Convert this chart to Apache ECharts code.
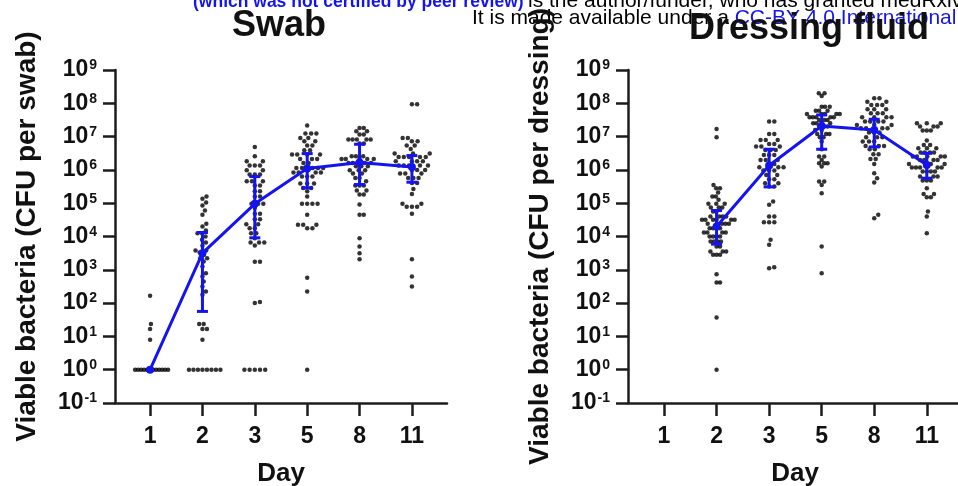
<!DOCTYPE html>
<html>
<head>
<meta charset="utf-8">
<title>Viable bacteria – swab and dressing fluid</title>
<script src="https://cdn.jsdelivr.net/npm/echarts@6/dist/echarts.min.js"></script>
<style>
  html, body { margin: 0; padding: 0; background: #fff; }
  #chart { width: 958px; height: 486px; }
</style>
</head>
<body>
<div id="chart"></div>
<script>
// x categories (sampling day) and y tick exponents
const days = ['1', '2', '3', '5', '8', '11']
const yExponents = [-1, 0, 1, 2, 3, 4, 5, 6, 7, 8, 9]

// swab: log10 CFU per swab, one value per sample
const swabD1 = [0, 0, 0, 0, 0, 0, 0, 0, 0, 0, 0, 0, 0.9, 1.22, 1.37, 2.22]
const swabD2 = [5.2, 5.13, 5.02, 4.93, 4.78, 4.65, 4.38, 4.3, 4.18, 4.1, 4.1, 4.0, 3.9, 3.82, 3.72,
  3.58, 3.58, 3.52, 3.45, 3.35, 3.35, 3.25, 3.1, 2.9, 2.8, 2.65, 2.5, 2.35, 2.25,
  1.37, 1.37, 1.22, 1.22, 0.9, 0, 0, 0, 0, 0, 0, 0, 0]
const swabD3 = [6.69, 6.41, 6.26, 6.26, 6.13, 6.13, 6.13, 5.99, 5.99, 5.86, 5.86, 5.86, 5.66, 5.66, 5.66,
  5.53, 5.53, 5.36, 5.36, 5.2, 5.2, 4.98, 4.98, 4.98, 4.86, 4.68, 4.68, 4.52, 4.52, 4.37, 4.37,
  4.25, 4.25, 4.1, 4.1, 3.95, 3.82, 3.82, 3.82, 3.73, 3.24, 3.24, 2.0, 2.03, 0, 0, 0, 0, 0]
const swabD5 = [7.33, 7.09, 7.09, 7.09, 6.96, 6.96, 6.86, 6.86, 6.73, 6.73, 6.59, 6.59, 6.46, 6.46, 6.46, 6.46,
  6.33, 6.33, 6.33, 6.21, 6.21, 6.06, 6.06, 6.06, 6.06, 6.06, 6.06, 5.92, 5.92, 5.92, 5.92,
  5.8, 5.8, 5.8, 5.59, 5.59, 5.59, 5.46, 5.46, 5.36, 5.2, 4.98, 4.98, 4.98, 4.98, 4.65,
  4.35, 4.35, 4.35, 4.25, 4.25, 2.76, 2.35, 0]
const swabD8 = [7.26, 7.26, 7.16, 7.16, 7.06, 7.06, 6.91, 6.91, 6.91, 6.91, 6.91, 6.79, 6.79, 6.41, 6.41, 6.41,
  6.33, 6.33, 6.33, 6.33, 6.33, 6.21, 6.21, 6.21, 6.21, 6.11, 6.11, 6.11, 5.99, 5.99, 5.99,
  5.89, 5.89, 5.76, 5.76, 5.66, 5.53, 5.53, 5.53, 5.38, 5.38, 5.26, 5.26, 4.96, 4.65, 4.65,
  3.95, 3.7, 3.5, 3.32]
const swabD11 = [7.97, 7.97, 6.96, 6.96, 6.86, 6.86, 6.73, 6.73, 6.63, 6.49, 6.49, 6.49, 6.39, 6.39, 6.39, 6.39, 6.39,
  6.26, 6.26, 6.26, 6.26, 6.13, 6.13, 6.13, 6.13, 6.13, 6.0, 6.0, 6.0, 5.89, 5.89, 5.89,
  5.76, 5.76, 5.76, 5.61, 5.61, 5.43, 5.28, 4.98, 4.98, 4.89, 4.89, 4.89, 4.68, 3.32, 2.8, 2.5]
const swabMedian = [0, 3.5, 4.98, 6.04, 6.22, 6.09]
const swabLow = [null, 1.75, 3.96, 5.46, 5.56, 5.63]
const swabHigh = [null, 4.12, 5.8, 6.49, 6.77, 6.43]

// dressing fluid: log10 CFU per dressing
const dressD1 = []
const dressD2 = [7.23, 6.98, 5.55, 5.45, 5.45, 5.32, 5.2, 5.2, 5.1, 4.98, 4.98, 4.98, 4.87, 4.87, 4.87,
  4.75, 4.75, 4.6, 4.6, 4.6, 4.6, 4.5, 4.5, 4.5, 4.5, 4.5, 4.5, 4.38, 4.38, 4.38, 4.38,
  4.25, 4.25, 4.25, 4.25, 4.12, 4.12, 4.12, 4.12, 4.0, 4.0, 4.0, 4.0, 3.85, 3.85, 3.85, 3.85,
  3.7, 3.7, 3.55, 3.55, 3.55, 3.45, 3.45, 3.45, 2.87, 2.62, 2.62, 1.57, 0]
const dressD3 = [7.45, 7.45, 7.08, 7.08, 6.9, 6.9, 6.9, 6.78, 6.78, 6.7, 6.7, 6.7, 6.6, 6.6, 6.6,
  6.45, 6.45, 6.45, 6.3, 6.3, 6.3, 6.18, 6.18, 6.08, 6.08, 6.08, 5.98, 5.98, 5.98, 5.85, 5.85,
  5.72, 5.72, 5.6, 5.6, 5.5, 5.5, 5.05, 4.95, 4.6, 4.6, 4.43, 4.43, 4.43, 3.9, 3.75, 3.05, 3.08]
const dressD5 = [8.3, 8.3, 8.22, 7.9, 7.9, 7.9, 7.78, 7.78, 7.78, 7.68, 7.68, 7.68, 7.68, 7.68,
  7.58, 7.58, 7.58, 7.58, 7.58, 7.5, 7.5, 7.5, 7.4, 7.4, 7.4, 7.4, 7.3, 7.3, 7.3, 7.2, 7.2,
  7.08, 7.08, 7.08, 6.98, 6.98, 6.85, 6.62, 6.4, 6.4, 6.3, 6.2, 6.2, 6.2, 6.1,
  5.65, 5.65, 5.55, 5.3, 3.7, 2.9]
const dressD8 = [8.15, 8.15, 8.05, 8.05, 7.95, 7.95, 7.95, 7.82, 7.82, 7.82, 7.7, 7.7, 7.7,
  7.58, 7.58, 7.58, 7.58, 7.45, 7.45, 7.45, 7.45, 7.35, 7.35, 7.35, 7.25, 7.25, 7.25, 7.25,
  7.12, 7.12, 7.12, 6.98, 6.98, 6.98, 6.85, 6.85, 6.85, 6.72, 6.72, 6.72, 6.62, 6.62,
  6.47, 6.47, 6.33, 6.33, 6.18, 5.9, 5.75, 5.62, 4.65, 4.55]
const dressD11 = [7.4, 7.4, 7.4, 7.3, 7.3, 7.3, 7.18, 7.18, 7.18, 6.88, 6.75, 6.75, 6.65, 6.65, 6.65,
  6.52, 6.52, 6.52, 6.52, 6.4, 6.4, 6.4, 6.4, 6.4, 6.3, 6.3, 6.3, 6.3, 6.18, 6.18, 6.18, 6.18,
  6.07, 6.07, 6.07, 6.07, 6.07, 5.95, 5.95, 5.95, 5.95, 5.8, 5.8, 5.8, 5.68, 5.68, 5.68,
  5.45, 5.28, 5.28, 5.18, 5.18, 4.75, 4.6, 4.1]
const dressMedian = [null, 4.3, 6.13, 7.32, 7.2, 6.15]
const dressLow = [null, 3.77, 5.49, 6.62, 6.69, 5.75]
const dressHigh = [null, 4.78, 6.62, 7.65, 7.52, 6.5]

const swabGroups = [swabD1, swabD2, swabD3, swabD5, swabD8, swabD11]
const dressGroups = [dressD1, dressD2, dressD3, dressD5, dressD8, dressD11]

const FONT = '"Liberation Sans", Arial, sans-serif'
const BLUE = '#1414f2'
const INK = '#111'
const AXIS = '#1c1c1c'
const PX_PER_UNIT = 52.4 // one day slot on the x axis
const PX_PER_DECADE = 33.3

// beeswarm: put each dot as near the centre as it can go without touching others
function dotPlot(groups) {
  const out = []
  const D = 5.2
  groups.forEach((vals, ci) => {
    const sorted = vals.slice().sort((a, b) => a - b)
    const placed = []
    sorted.forEach((v) => {
      const y = v * PX_PER_DECADE
      const near = placed.filter((p) => Math.abs(p[1] - y) < D)
      const cands = [0]
      near.forEach((p) => {
        const dx = Math.sqrt(D * D - (p[1] - y) * (p[1] - y))
        cands.push(p[0] + dx, p[0] - dx)
      })
      cands.sort((a, b) => Math.abs(a) - Math.abs(b))
      const x = cands.find((c) => near.every((p) => (p[0] - c) ** 2 + (p[1] - y) ** 2 >= D * D - 1e-6))
      placed.push([x, y])
    })
    let maxX = 0
    placed.forEach((p) => { maxX = Math.max(maxX, Math.abs(p[0])) })
    const k = maxX > 18 ? 18 / maxX : 1
    placed.forEach((p, i) => {
      out.push([ci + (p[0] * k) / PX_PER_UNIT, sorted[i]])
    })
  })
  return out
}

function lineData(medians) {
  return medians.map((m, i) => (m == null ? null : [i, m])).filter(Boolean)
}

function barData(lows, highs) {
  return lows.map((lo, i) => (lo == null ? null : [i, lo, highs[i]])).filter(Boolean)
}

function xAxis(gridIndex, min) {
  return {
    type: 'value',
    gridIndex,
    min,
    max: 5.67,
    name: 'Day',
    nameLocation: 'middle',
    nameGap: 58,
    nameMoveOverlap: false,
    nameTextStyle: { fontSize: 26, fontWeight: 'bold', fontFamily: FONT, color: INK },
    axisLine: { show: true, onZero: false, lineStyle: { color: AXIS, width: 2.5 } },
    axisTick: { show: true, length: 13, customValues: [0, 1, 2, 3, 4, 5], lineStyle: { color: AXIS, width: 2.5 } },
    axisLabel: {
      margin: 22,
      customValues: [0, 1, 2, 3, 4, 5],
      formatter: (v) => days[Math.round(v)],
      fontSize: 23,
      fontWeight: 'bold',
      fontFamily: FONT,
      color: INK,
    },
    splitLine: { show: false },
  }
}

function yAxis(gridIndex, name) {
  return {
    type: 'value',
    gridIndex,
    min: yExponents[0],
    max: yExponents[yExponents.length - 1],
    interval: 1,
    name,
    nameLocation: 'middle',
    nameGap: 74,
    nameMoveOverlap: false,
    nameTextStyle: { fontSize: 28, fontWeight: 'bold', fontFamily: FONT, color: INK },
    axisLine: { show: true, onZero: false, lineStyle: { color: AXIS, width: 2.5 } },
    axisTick: { show: true, length: 12, lineStyle: { color: AXIS, width: 2.5 } },
    splitLine: { show: false },
    axisLabel: {
      margin: 18,
      formatter: (v) => '{b|10}{s|' + v + '}',
      rich: {
        b: { fontSize: 23, fontWeight: 'bold', fontFamily: FONT, color: INK },
        s: { fontSize: 14, fontWeight: 'bold', fontFamily: FONT, color: INK, verticalAlign: 'top', padding: [0, 0, 0, 1] },
      },
    },
  }
}

function errorSeries(idx, lows, highs) {
  return {
    type: 'custom',
    xAxisIndex: idx,
    yAxisIndex: idx,
    z: 5,
    data: barData(lows, highs),
    encode: { x: 0, y: [1, 2] },
    renderItem: (params, api) => {
      const x = api.value(0)
      const lo = api.coord([x, api.value(1)])
      const hi = api.coord([x, api.value(2)])
      const w = 5.5
      const style = { stroke: BLUE, lineWidth: 3 }
      return {
        type: 'group',
        children: [
          { type: 'line', shape: { x1: lo[0], y1: lo[1], x2: hi[0], y2: hi[1] }, style },
          { type: 'line', shape: { x1: lo[0] - w, y1: lo[1], x2: lo[0] + w, y2: lo[1] }, style },
          { type: 'line', shape: { x1: hi[0] - w, y1: hi[1], x2: hi[0] + w, y2: hi[1] }, style },
        ],
      }
    },
  }
}

function dotSeries(idx, groups) {
  return {
    type: 'scatter',
    xAxisIndex: idx,
    yAxisIndex: idx,
    z: 2,
    symbol: 'circle',
    symbolSize: 4.5,
    itemStyle: { color: '#000' },
    data: dotPlot(groups),
  }
}

function medianSeries(idx, medians) {
  return {
    type: 'line',
    xAxisIndex: idx,
    yAxisIndex: idx,
    z: 4,
    data: lineData(medians),
    symbol: 'circle',
    symbolSize: 8,
    itemStyle: { color: BLUE },
    lineStyle: { color: BLUE, width: 3 },
  }
}

const chart = echarts.init(document.getElementById('chart'), null, { renderer: 'canvas' })

const option = {
  backgroundColor: '#fff',
  animation: false,
  grid: [
    { left: 115, right: 511, top: 70, bottom: 83, outerBoundsMode: 'none' },
    { left: 628, right: -4, top: 70, bottom: 83, outerBoundsMode: 'none' },
  ],
  xAxis: [xAxis(0, -0.67), xAxis(1, -0.685)],
  yAxis: [yAxis(0, 'Viable bacteria (CFU per swab)'), yAxis(1, 'Viable bacteria (CFU per dressing)')],
  series: [
    dotSeries(0, swabGroups),
    medianSeries(0, swabMedian),
    errorSeries(0, swabLow, swabHigh),
    dotSeries(1, dressGroups),
    medianSeries(1, dressMedian),
    errorSeries(1, dressLow, dressHigh),
  ],
  graphic: [
    {
      type: 'text',
      x: 193,
      y: 11,
      z: 0,
      style: { text: '(which was not certified by peer review)', fontSize: 17.5, fontWeight: 'bold', fontFamily: FONT, fill: BLUE, verticalAlign: 'bottom' },
    },
    {
      type: 'text',
      x: 528,
      y: 11.5,
      z: 0,
      style: { text: 'is the author/funder, who has granted medRxiv a license to display the preprint in perpetuity.', fontSize: 21, fontFamily: FONT, fill: '#000', verticalAlign: 'bottom' },
    },
    {
      type: 'text',
      x: 472,
      y: 8,
      z: 0,
      style: {
        text: '{k|It is made available under a }{b|CC-BY 4.0 International license}',
        verticalAlign: 'top',
        rich: {
          k: { fontSize: 21, fontFamily: FONT, fill: '#000' },
          b: { fontSize: 21, fontFamily: FONT, fill: BLUE },
        },
      },
    },
    {
      type: 'text',
      x: 279,
      y: 8,
      style: { text: 'Swab', fontSize: 36, fontWeight: 'bold', fontFamily: FONT, fill: INK, align: 'center', verticalAlign: 'top' },
    },
    {
      type: 'text',
      x: 809,
      y: 11,
      style: { text: 'Dressing fluid', fontSize: 36, fontWeight: 'bold', fontFamily: FONT, fill: INK, align: 'center', verticalAlign: 'top' },
    },
  ],
}

chart.setOption(option)
</script>
</body>
</html>
